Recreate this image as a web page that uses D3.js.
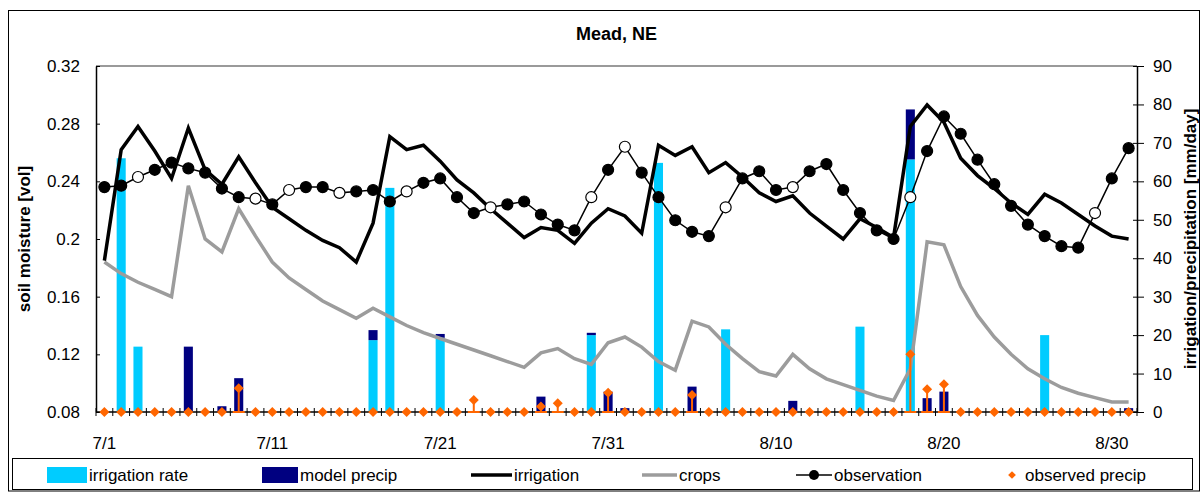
<!doctype html>
<html lang="en">
<head>
<meta charset="UTF-8">
<title>Mead, NE</title>
<style>
  body { margin: 0; background: #fff; }
  text { font-family: "Liberation Sans", Arial, sans-serif; fill: #000; }
</style>
</head>
<body>
<svg id="chart" width="1204" height="492"></svg>
<script src="https://d3js.org/d3.v7.min.js"></script>
<script>
    // one category per day, 7/1 .. 8/31
    const days = d3.timeDay.range(new Date(2007, 6, 1), new Date(2007, 8, 1))
        .map(d3.timeFormat("%-m/%-d"));

    const irrigation = [0.185, 0.262, 0.278, 0.261, 0.242, 0.277, 0.248, 0.238, 0.257, 0.239,
        0.222, 0.214, 0.206, 0.199, 0.194, 0.184, 0.211, 0.271, 0.262, 0.265,
        0.254, 0.241, 0.232, 0.221, 0.211, 0.201, 0.208, 0.206, 0.197, 0.211,
        0.221, 0.216, 0.204, 0.265, 0.258, 0.264, 0.246, 0.253, 0.243, 0.232,
        0.226, 0.230, 0.218, 0.209, 0.200, 0.214, 0.208, 0.201, 0.278, 0.293,
        0.281, 0.256, 0.244, 0.235, 0.225, 0.217, 0.231, 0.225, 0.217, 0.209,
        0.202, 0.200];
    const crops = [0.184, 0.176, 0.170, 0.165, 0.160, 0.237, 0.200, 0.191, 0.221, 0.202,
        0.184, 0.173, 0.165, 0.157, 0.151, 0.145, 0.152, 0.146, 0.140, 0.135,
        0.131, 0.127, 0.123, 0.119, 0.115, 0.111, 0.121, 0.124, 0.117, 0.113,
        0.128, 0.132, 0.125, 0.115, 0.109, 0.143, 0.139, 0.127, 0.117, 0.108,
        0.105, 0.120, 0.110, 0.103, 0.099, 0.095, 0.091, 0.088, 0.110, 0.198,
        0.196, 0.167, 0.147, 0.132, 0.120, 0.110, 0.103, 0.097, 0.093, 0.090,
        0.087, 0.087];
    const observation = [0.236, 0.237, 0.243, 0.248, 0.253, 0.249, 0.246, 0.235, 0.229, 0.228,
        0.224, 0.234, 0.236, 0.236, 0.232, 0.233, 0.234, 0.226, 0.233, 0.239,
        0.242, 0.229, 0.218, 0.222, 0.224, 0.226, 0.217, 0.210, 0.206, 0.229,
        0.248, 0.264, 0.246, 0.229, 0.213, 0.205, 0.202, 0.222, 0.242, 0.247,
        0.234, 0.236, 0.247, 0.252, 0.234, 0.218, 0.206, 0.200, 0.229, 0.261,
        0.285, 0.273, 0.255, 0.238, 0.223, 0.210, 0.202, 0.195, 0.194, 0.218,
        0.242, 0.263];
    // days whose observation marker is hollow
    const obsOpen = [2, 9, 11, 14, 18, 23, 29, 31, 37, 41, 48, 59];

    const irrigationRate = [0, 66, 17, 0, 0, 0, 0, 0, 0, 0,
        0, 0, 0, 0, 0, 0, 18.7, 58.3, 0, 0,
        19.3, 0, 0, 0, 0, 0, 0, 0, 0, 20,
        0, 0, 0, 64.8, 0, 0, 0, 21.5, 0, 0,
        0, 0, 0, 0, 0, 22.2, 0, 0, 65.7, 0,
        0, 0, 0, 0, 0, 0, 20, 0, 0, 0,
        0, 0];
    const modelPrecip = [0, 0, 0, 0, 0, 17, 0, 1.5, 8.8, 0,
        0, 0, 0, 0, 0, 0, 2.6, 0, 0, 0,
        1.0, 0, 0, 0, 0, 0, 4.0, 0, 0, 0.6,
        5.3, 1.0, 0, 0, 0, 6.6, 0, 0, 0, 0,
        0, 2.9, 0, 0, 0, 0, 0, 0, 13.0, 3.6,
        5.3, 0, 0, 0, 0, 0, 0, 0, 0, 0,
        0, 1.0];
    const observedPrecip = [0, 0, 0, 0, 0, 0, 0, 0, 6.2, 0,
        0, 0, 0, 0, 0, 0, 0, 0, 0, 0,
        0, 0, 3.1, 0, 0, 0, 1.4, 2.3, 0, 0,
        5.0, 0, 0, 0, 0, 4.4, 0, 0, 0, 0,
        0, 0, 0, 0, 0, 0, 0, 0, 15.0, 5.9,
        7.2, 0, 0, 0, 0, 0, 0, 0, 0, 0,
        0, 0];

    const leftTicks = [0.08, 0.12, 0.16, 0.2, 0.24, 0.28, 0.32];
    const rightTicks = [0, 10, 20, 30, 40, 50, 60, 70, 80, 90];
    const xLabels = ["7/1", "7/11", "7/21", "7/31", "8/10", "8/20", "8/30"];

    const svg = d3.select("#chart"),
        margin = {top: 66, right: 67, bottom: 80, left: 96},
        width = +svg.attr("width"),
        height = +svg.attr("height");

    const x = d3.scaleBand()
        .domain(days)
        .range([margin.left, width - margin.right])
        .padding(0);

    const y = d3.scaleLinear()
        .domain([0.08, 0.32])
        .range([height - margin.bottom, margin.top]);

    const y2 = d3.scaleLinear()
        .domain([0, 90])
        .range([height - margin.bottom, margin.top]);

    const cx = (d, i) => x(days[i]) + x.bandwidth() / 2;

    // outer frame
    svg.append("rect")
        .attr("x", 8.5).attr("y", 10.5)
        .attr("width", 1191).attr("height", height - 11.5)
        .attr("fill", "none").attr("stroke", "#000").attr("stroke-width", 1);

    // plot area top border
    svg.append("line")
        .attr("x1", margin.left).attr("x2", width - margin.right)
        .attr("y1", margin.top).attr("y2", margin.top)
        .attr("stroke", "#9a9a9a").attr("stroke-width", 2);

    // title
    svg.append("text")
        .attr("x", (margin.left + width - margin.right) / 2)
        .attr("y", 40)
        .attr("text-anchor", "middle")
        .attr("font-size", "18px")
        .attr("font-weight", "bold")
        .text("Mead, NE");

    // stacked bars
    const rows = days.map((d, i) => ({day: d, rate: irrigationRate[i], precip: modelPrecip[i]}));
    const series = d3.stack().keys(["rate", "precip"])(rows);
    const barColor = {rate: "#00ccff", precip: "#000080"};
    const barW = x.bandwidth() * 0.54;

    svg.append("g")
        .selectAll("g")
        .data(series)
        .enter().append("g")
        .attr("fill", d => barColor[d.key])
        .selectAll("rect")
        .data(d => d.filter(p => p[1] > p[0]))
        .enter().append("rect")
        .attr("x", d => x(d.data.day) + (x.bandwidth() - barW) / 2)
        .attr("width", barW)
        .attr("y", d => y2(d[1]))
        .attr("height", d => y2(d[0]) - y2(d[1]));

    // left axis
    svg.append("g")
        .attr("transform", "translate(" + margin.left + ",0)")
        .call(d3.axisLeft(y).tickValues(leftTicks).tickFormat(d => String(d))
            .tickSizeInner(6).tickSizeOuter(0).tickPadding(10))
        .call(g => g.selectAll(".tick line").attr("x2", 4))
        .call(g => g.select(".domain").attr("stroke-width", 1.5))
        .attr("font-size", "17px")
        .attr("font-family", "Liberation Sans, Arial, sans-serif");

    // right axis
    svg.append("g")
        .attr("transform", "translate(" + (width - margin.right) + ",0)")
        .call(d3.axisRight(y2).tickValues(rightTicks)
            .tickSizeInner(7).tickSizeOuter(0).tickPadding(9))
        .call(g => g.selectAll(".tick line").attr("x1", -4))
        .call(g => g.select(".domain").attr("stroke-width", 1.5))
        .attr("font-size", "17px")
        .attr("font-family", "Liberation Sans, Arial, sans-serif");

    // bottom axis: cross ticks at every day boundary, labels every 10 days
    const xAxis = svg.append("g")
        .attr("transform", "translate(0," + (height - margin.bottom) + ")");
    xAxis.append("line")
        .attr("x1", margin.left).attr("x2", width - margin.right)
        .attr("stroke", "#000").attr("stroke-width", 1.5);
    xAxis.selectAll("line.tk")
        .data(days.concat([null]))
        .enter().append("line")
        .attr("class", "tk")
        .attr("x1", (d, i) => margin.left + i * x.step())
        .attr("x2", (d, i) => margin.left + i * x.step())
        .attr("y1", -4).attr("y2", 4)
        .attr("stroke", "#000");
    xAxis.selectAll("text")
        .data(xLabels)
        .enter().append("text")
        .attr("x", d => x(d) + x.bandwidth() / 2)
        .attr("y", 37)
        .attr("text-anchor", "middle")
        .attr("font-size", "17px")
        .text(d => d);

    // axis titles
    svg.append("text")
        .attr("transform", "translate(30," + ((margin.top + height - margin.bottom) / 2) + ") rotate(-90)")
        .attr("text-anchor", "middle")
        .attr("font-size", "17px")
        .attr("font-weight", "bold")
        .text("soil moisture [vol]");

    svg.append("text")
        .attr("transform", "translate(1196," + ((margin.top + height - margin.bottom) / 2) + ") rotate(-90)")
        .attr("text-anchor", "middle")
        .attr("font-size", "17px")
        .attr("font-weight", "bold")
        .text("irrigation/precipitation [mm/day]");

    // lines
    const lineL = d3.line().x(cx).y(d => y(d));

    svg.append("path")
        .datum(crops)
        .attr("d", lineL)
        .attr("fill", "none")
        .attr("stroke", "#9c9c9c")
        .attr("stroke-width", 3.5)
        .attr("stroke-linejoin", "miter");

    svg.append("path")
        .datum(irrigation)
        .attr("d", lineL)
        .attr("fill", "none")
        .attr("stroke", "#000")
        .attr("stroke-width", 3.5)
        .attr("stroke-linejoin", "miter");

    svg.append("path")
        .datum(observation)
        .attr("d", lineL)
        .attr("fill", "none")
        .attr("stroke", "#000")
        .attr("stroke-width", 1.5);

    svg.append("g")
        .selectAll("circle")
        .data(observation)
        .enter().append("circle")
        .attr("cx", cx)
        .attr("cy", d => y(d))
        .attr("r", 5.5)
        .attr("fill", (d, i) => obsOpen.includes(i) ? "#fff" : "#000")
        .attr("stroke", "#000")
        .attr("stroke-width", 1.2);

    // observed precip: minus error bar to zero with a cap, then diamond marker
    const orange = "#ff6600";
    const errs = svg.append("g").attr("stroke", orange).attr("stroke-width", 2);
    observedPrecip.forEach(function (v, i) {
        if (v <= 0) return;
        errs.append("line")
            .attr("x1", cx(v, i)).attr("x2", cx(v, i))
            .attr("y1", y2(v)).attr("y2", y2(0));
        errs.append("line")
            .attr("x1", cx(v, i) - 6).attr("x2", cx(v, i) + 6)
            .attr("y1", y2(0)).attr("y2", y2(0));
    });

    const diamond = d3.symbol().type(d3.symbolSquare).size(50);
    svg.append("g")
        .selectAll("path")
        .data(observedPrecip)
        .enter().append("path")
        .attr("d", diamond)
        .attr("transform", (d, i) => "translate(" + cx(d, i) + "," + y2(d) + ") rotate(45)")
        .attr("fill", orange);

    // legend
    const leg = svg.append("g").attr("transform", "translate(0,475)");
    leg.append("rect")
        .attr("x", 12.5).attr("y", -16.5)
        .attr("width", 1180).attr("height", 31)
        .attr("fill", "#fff").attr("stroke", "#000");

    const legendItems = [
        {label: "irrigation rate", kind: "rect", color: "#00ccff", x0: 47, x1: 87},
        {label: "model precip", kind: "rect", color: "#000080", x0: 262, x1: 298},
        {label: "irrigation", kind: "line", color: "#000", x0: 471, x1: 512},
        {label: "crops", kind: "line", color: "#9c9c9c", x0: 642, x1: 677},
        {label: "observation", kind: "dot", color: "#000", x0: 796, x1: 832},
        {label: "observed precip", kind: "diamond", color: orange, x0: 1006, x1: 1018}
    ];

    legendItems.forEach(function (it) {
        if (it.kind === "rect") {
            leg.append("rect").attr("x", it.x0).attr("y", -8)
                .attr("width", it.x1 - it.x0).attr("height", 16).attr("fill", it.color);
        } else if (it.kind === "line" || it.kind === "dot") {
            leg.append("line").attr("x1", it.x0).attr("x2", it.x1)
                .attr("stroke", it.color).attr("stroke-width", it.kind === "dot" ? 1.5 : 3.5);
            if (it.kind === "dot") {
                leg.append("circle").attr("cx", (it.x0 + it.x1) / 2).attr("r", 5).attr("fill", "#000");
            }
        } else {
            leg.append("path").attr("d", d3.symbol().type(d3.symbolSquare).size(30))
                .attr("transform", "translate(" + ((it.x0 + it.x1) / 2) + ",0) rotate(45)")
                .attr("fill", it.color);
        }
        leg.append("text")
            .attr("x", it.x1 + (it.kind === "diamond" ? 7 : 2))
            .attr("y", 6)
            .attr("font-size", "17px")
            .text(it.label);
    });
</script>
</body>
</html>
